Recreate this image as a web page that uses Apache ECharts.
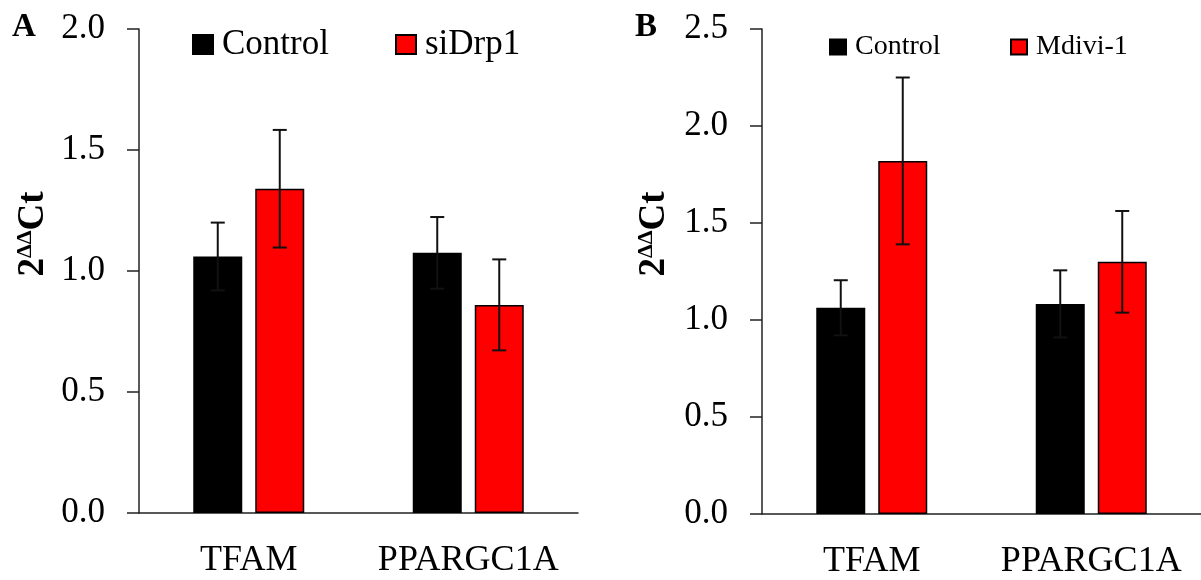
<!DOCTYPE html>
<html>
<head>
<meta charset="utf-8">
<script src="https://cdn.jsdelivr.net/npm/echarts@6/dist/echarts.min.js"></script>
<style>
html,body{margin:0;padding:0;background:#fff;}
#chart{width:1201px;height:580px;}
</style>
</head>
<body>
<div id="chart"></div>
<script>
// ---- data ----
var categories = ['TFAM', 'PPARGC1A'];
var aControl = [1.06, 1.075];
var aControlErr = [0.14, 0.148];
var aSiDrp1 = [1.34, 0.86];
var aSiDrp1Err = [0.243, 0.188];
var bControl = [1.063, 1.083];
var bControlErr = [0.142, 0.173];
var bMdivi = [1.82, 1.30];
var bMdiviErr = [0.43, 0.262];
var aTicks = [0, 0.5, 1.0, 1.5, 2.0];
var bTicks = [0, 0.5, 1.0, 1.5, 2.0, 2.5];

// ---- style ----
var FONT = '"Liberation Serif", "Times New Roman", serif';
var BAR_W = 49;
var GAP_PX = 13;
var OFF = (BAR_W + GAP_PX) / 2;

function errSeries(name, vals, errs, xi, yi, side) {
  return {
    type: 'custom',
    name: name + ' err',
    xAxisIndex: xi, yAxisIndex: yi,
    z: 10,
    silent: true,
    data: vals.map(function (v, i) { return [i, v, errs[i]]; }),
    renderItem: function (params, api) {
      var x = api.value(0), v = api.value(1), e = api.value(2);
      var top = api.coord([x, v + e]);
      var bot = api.coord([x, v - e]);
      var cx = top[0] + side * OFF;
      var st = { stroke: '#111', lineWidth: 2 };
      return {
        type: 'group',
        children: [
          { type: 'line', shape: { x1: cx, y1: top[1], x2: cx, y2: bot[1] }, style: st },
          { type: 'line', shape: { x1: cx - 7, y1: top[1], x2: cx + 7, y2: top[1] }, style: st },
          { type: 'line', shape: { x1: cx - 7, y1: bot[1], x2: cx + 7, y2: bot[1] }, style: st }
        ]
      };
    }
  };
}

function barSeries(name, vals, color, xi, yi) {
  return {
    type: 'bar', name: name, xAxisIndex: xi, yAxisIndex: yi,
    data: vals, barWidth: BAR_W, barGap: (GAP_PX / BAR_W * 100) + '%',
    itemStyle: { color: color, borderColor: '#000', borderWidth: 1.5 },
    emphasis: { disabled: true }
  };
}

function yAxis(gi, max, ticks) {
  return {
    type: 'value', gridIndex: gi, min: 0, max: max, interval: 0.5,
    axisLine: { show: true, lineStyle: { color: '#222', width: 1.5 } },
    axisTick: { show: true, inside: false, length: 12, lineStyle: { color: '#222', width: 1.5 } },
    splitLine: { show: false },
    axisLabel: {
      margin: 34, color: '#000', fontFamily: FONT, fontSize: 35,
      formatter: function (v) { return v.toFixed(1); }
    }
  };
}

function xAxis(gi) {
  return {
    type: 'category', gridIndex: gi, data: categories,
    axisLine: { show: true, lineStyle: { color: '#222', width: 1.5 } },
    axisTick: { show: false },
    axisLabel: { interval: 0, hideOverlap: false, color: '#000', fontFamily: FONT, fontSize: 36, margin: 30 }
  };
}

function legend(name, left, top, size, fs) {
  return {
    data: [name], left: left, top: top, padding: 0, icon: 'rect',
    itemWidth: size, itemHeight: size - 1, selectedMode: false,
    textStyle: { fontFamily: FONT, fontSize: fs, color: '#000', padding: [0, 0, 0, 4] }
  };
}

function yTitle(x, y) {
  return {
    type: 'text', x: x, y: y, rotation: Math.PI / 2, silent: true,
    style: {
      text: '{a|2}{b|ΔΔ}{a|Ct}',
      align: 'center', verticalAlign: 'middle',
      rich: {
        a: { fontFamily: FONT, fontWeight: 'bold', fontSize: 37, fill: '#000' },
        b: { fontFamily: FONT, fontWeight: 'bold', fontSize: 22, fill: '#000', padding: [0, 0, 16, 0] }
      }
    }
  };
}

var chart = echarts.init(document.getElementById('chart'), null, { renderer: 'canvas' });
chart.setOption({
  backgroundColor: '#fff',
  animation: false,
  grid: [
    { left: 139, top: 29, width: 439, height: 484 },
    { left: 762, top: 29, width: 439, height: 487 }
  ],
  xAxis: [xAxis(0), xAxis(1)],
  yAxis: [yAxis(0, 2.0, aTicks), yAxis(1, 2.5, bTicks)],
  legend: [
    legend('Control', 192, 27, 20, 35),
    legend('siDrp1', 395, 27, 20, 35),
    legend('Control', 829, 33, 16, 28),
    legend('Mdivi-1', 1010, 33, 16, 28)
  ],
  graphic: [
    { type: 'text', left: 12, top: 11, style: { text: 'A', fontFamily: FONT, fontWeight: 'bold', fontSize: 33, fill: '#000' } },
    { type: 'text', left: 635, top: 11, style: { text: 'B', fontFamily: FONT, fontWeight: 'bold', fontSize: 33, fill: '#000' } },
    yTitle(33, 234),
    yTitle(654, 234)
  ],
  series: [
    barSeries('Control', aControl, '#000', 0, 0),
    barSeries('siDrp1', aSiDrp1, '#ff0000', 0, 0),
    errSeries('Control', aControl, aControlErr, 0, 0, -1),
    errSeries('siDrp1', aSiDrp1, aSiDrp1Err, 0, 0, 1),
    barSeries('Control', bControl, '#000', 1, 1),
    barSeries('Mdivi-1', bMdivi, '#ff0000', 1, 1),
    errSeries('Control', bControl, bControlErr, 1, 1, -1),
    errSeries('Mdivi-1', bMdivi, bMdiviErr, 1, 1, 1)
  ]
});
</script>
</body>
</html>
